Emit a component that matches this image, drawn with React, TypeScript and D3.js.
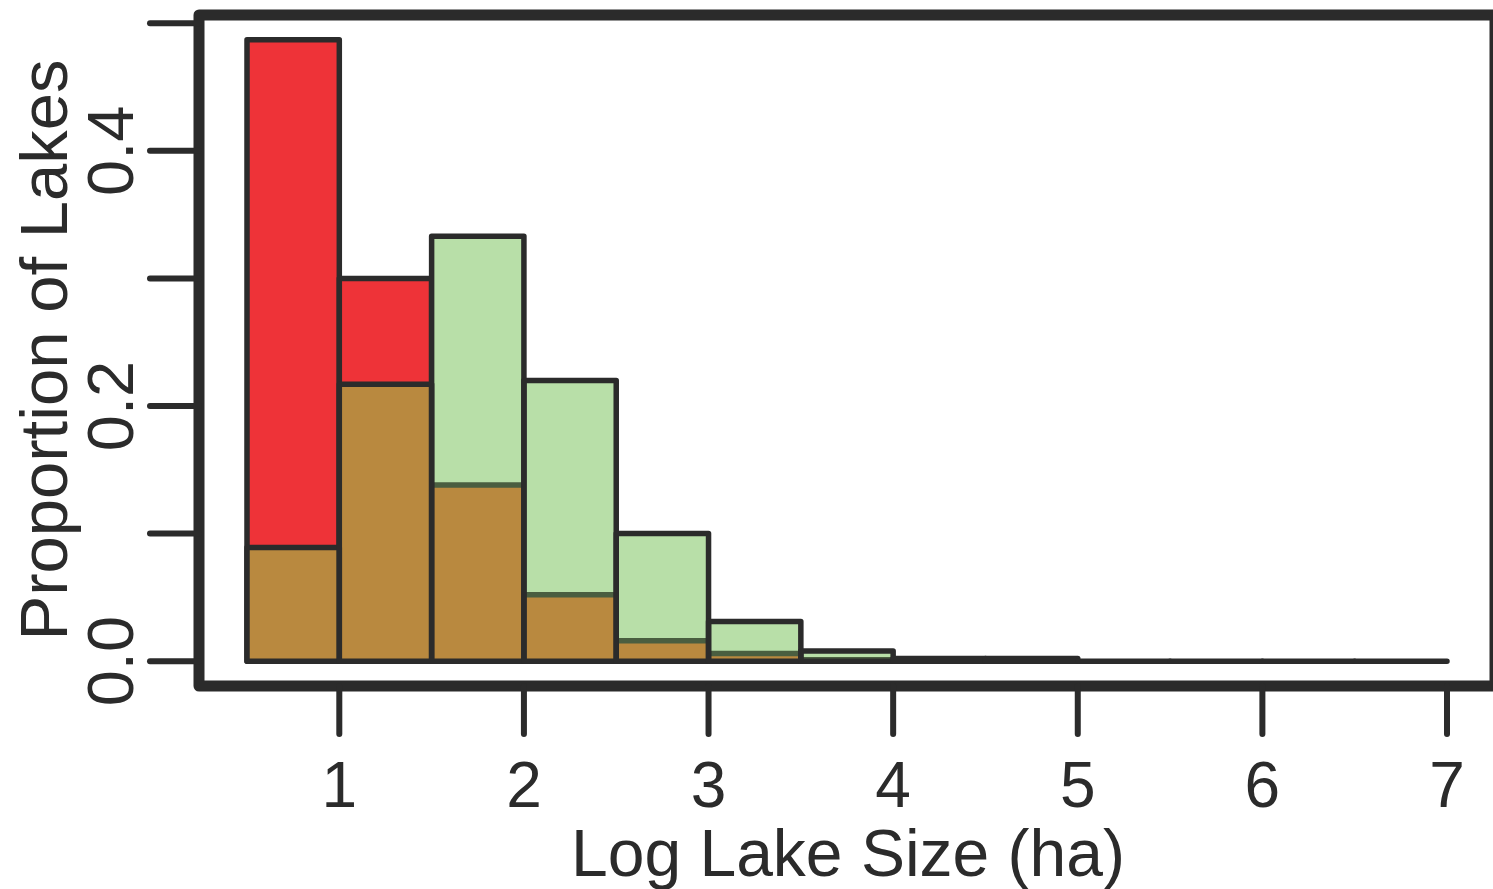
import React from "react";
import * as d3 from "d3";

// histogram breaks (log10 lake size, ha)
const breaks = [0.5, 1, 1.5, 2, 2.5, 3, 3.5, 4, 4.5, 5, 5.5, 6, 6.5, 7];
// proportion of lakes per bin
const redProps = [0.487, 0.3, 0.138, 0.052, 0.016, 0.006, 0.001];
const greenProps = [0.089, 0.217, 0.333, 0.22, 0.1, 0.031, 0.008, 0.002, 0.002, 0, 0, 0, 0];

const xTicks = [1, 2, 3, 4, 5, 6, 7];
const yTicks = [0, 0.1, 0.2, 0.3, 0.4, 0.5];
const yLabels = [0, 0.2, 0.4];

const WIDTH = 1493;
const HEIGHT = 889;
const DARK = "#2b2b2b";
const RED = "#ee3338";
const GREEN = "#b8dfa8";
const BROWN = "#b9893f";
const DARK_GREEN = "#4a5e40";
const FONT = "'Liberation Sans', Arial, sans-serif";

function rectPath(x0: number, y0: number, x1: number, y1: number) {
  const p = d3.path();
  p.rect(x0, Math.min(y0, y1), x1 - x0, Math.abs(y1 - y0));
  return p.toString();
}

export default function App() {
  // plot region, R-style 4% padding around xlim/ylim
  const box = { left: 199, right: 1495, top: 15, bottom: 686 };
  const xlim: [number, number] = [0.5, 7];
  const ylim: [number, number] = [0, 0.487];
  const xpad = (xlim[1] - xlim[0]) * 0.04;
  const ypad = (ylim[1] - ylim[0]) * 0.04;

  const x = d3.scaleLinear().domain([xlim[0] - xpad, xlim[1] + xpad]).range([box.left, box.right]);
  const y = d3.scaleLinear().domain([ylim[0] - ypad, ylim[1] + ypad]).range([box.bottom, box.top]);

  const bins = breaks.slice(0, -1).map((b, i) => ({
    x0: b,
    x1: breaks[i + 1],
    red: redProps[i],
    green: greenProps[i],
  }));

  const barStroke = 5.5;

  return (
    <svg
      width={WIDTH}
      height={HEIGHT}
      style={{ position: "absolute", left: 0, top: 0, background: "#fff" }}
      fontFamily={FONT}
    >
      {/* red histogram */}
      <g>
        {bins
          .filter((d) => d.red !== undefined)
          .map((d, i) => (
            <path
              key={`r${i}`}
              d={rectPath(x(d.x0), y(0), x(d.x1), y(d.red))}
              fill={RED}
              stroke={DARK}
              strokeWidth={barStroke}
              strokeLinejoin="round"
            />
          ))}
      </g>

      {/* green histogram, overlap shown in brown */}
      <g>
        {bins.map((d, i) => {
          const r = d.red ?? 0;
          const ov = Math.min(r, d.green);
          return (
            <g key={`g${i}`}>
              {d.green > 0 && (
                <path d={rectPath(x(d.x0), y(0), x(d.x1), y(d.green))} fill={GREEN} stroke="none" />
              )}
              {ov > 0 && <path d={rectPath(x(d.x0), y(0), x(d.x1), y(ov))} fill={BROWN} stroke="none" />}
              {r > 0 && r < d.green && (
                <line
                  x1={x(d.x0)}
                  x2={x(d.x1)}
                  y1={y(r)}
                  y2={y(r)}
                  stroke={DARK_GREEN}
                  strokeWidth={barStroke}
                />
              )}
            </g>
          );
        })}
        {bins.map((d, i) => (
          <path
            key={`go${i}`}
            d={rectPath(x(d.x0), y(0), x(d.x1), y(d.green))}
            fill="none"
            stroke={DARK}
            strokeWidth={barStroke}
            strokeLinejoin="round"
            strokeLinecap="round"
          />
        ))}
      </g>

      {/* frame */}
      <rect
        x={box.left}
        y={box.top}
        width={box.right - box.left}
        height={box.bottom - box.top}
        fill="none"
        stroke={DARK}
        strokeWidth={11}
        strokeLinejoin="round"
      />

      {/* y axis */}
      <g>
        {yTicks.map((t) => (
          <line
            key={t}
            x1={box.left}
            x2={150}
            y1={y(t)}
            y2={y(t)}
            stroke={DARK}
            strokeWidth={6}
            strokeLinecap="round"
          />
        ))}
        {yLabels.map((t) => (
          <text
            key={t}
            transform={`translate(133,${y(t)}) rotate(-90)`}
            textAnchor="middle"
            fontSize={65}
            fill={DARK}
          >
            {d3.format(".1f")(t)}
          </text>
        ))}
        <text
          transform={`translate(67,${350}) rotate(-90)`}
          textAnchor="middle"
          fontSize={67}
          fill={DARK}
        >
          Proportion of Lakes
        </text>
      </g>

      {/* x axis */}
      <g>
        {xTicks.map((t) => (
          <g key={t}>
            <line
              x1={x(t)}
              x2={x(t)}
              y1={box.bottom}
              y2={734}
              stroke={DARK}
              strokeWidth={6}
              strokeLinecap="round"
            />
            <text x={x(t)} y={807} textAnchor="middle" fontSize={64} fill={DARK}>
              {t}
            </text>
          </g>
        ))}
        <text x={848} y={876} textAnchor="middle" fontSize={66} fill={DARK}>
          Log Lake Size (ha)
        </text>
      </g>
    </svg>
  );
}
